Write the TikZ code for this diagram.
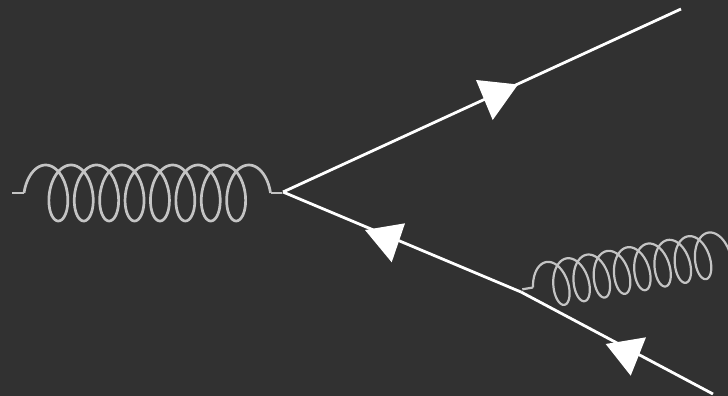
\documentclass[tikz,border=0pt]{standalone}
\definecolor{bgdark}{HTML}{313131}
\definecolor{gluegray}{HTML}{C4C4C4}
\tikzset{
  fermion/.style={draw=white,line width=2.8pt},
  arrowfill/.style={fill=white},
  gluonone/.style={draw=gluegray,line width=2.7pt,line join=round},
  gluontwo/.style={draw=gluegray,line width=2.2pt,line join=round},
  coilplot/.style={domain=-90:2970,samples=480,variable=\t},
}
\begin{document}
\begin{tikzpicture}[x=1pt,y=-1pt]
\useasboundingbox (0,0) rectangle (728,396);
\fill[bgdark] (0,0) rectangle (728,396);
% vertices and free ends
\coordinate (v1) at (283,192);
\coordinate (v2) at (521,292);
\coordinate (endtop) at (681,9);
\coordinate (endbot) at (713,394);
% fermion lines
\draw[fermion] (v1) -- (endtop);
\draw[fermion] (v1) -- (v2);
\draw[fermion] (v2) -- (endbot);
% arrowheads
\fill[arrowfill] (476,80) -- (518,84.5) -- (492.7,120) -- cycle;
\fill[arrowfill] (405,223.3) -- (365,230) -- (391.7,262.3) -- cycle;
\fill[arrowfill] (646,337.3) -- (605.7,344) -- (630.7,375.7) -- cycle;
% first gluon
\coordinate (g1s) at (12,193);
\coordinate (g1e) at (282,193);
\begin{scope}[shift={(24,193)}]
  \coordinate (g1a) at (0,0);
  \coordinate (g1b) at (246.5,0);
  \draw[gluonone] plot[coilplot] ({\t/360*25.4+15.3*sin(\t)+21.65},{-28*cos(\t)});
\end{scope}
\draw[gluonone] (g1s) -- (g1a);
\draw[gluonone] (g1b) -- (g1e);
% second gluon
\coordinate (g2s) at (522.3,289.3);
\begin{scope}[shift={(533,287.5)},rotate=10.3,scale=.81]
  \coordinate (g2a) at (0,0);
  \draw[gluontwo] plot[coilplot] ({\t/360*25.4+15.3*sin(\t)+21.65},{-28*cos(\t)});
\end{scope}
\draw[gluontwo] (g2s) -- (g2a);
\end{tikzpicture}
\end{document}
